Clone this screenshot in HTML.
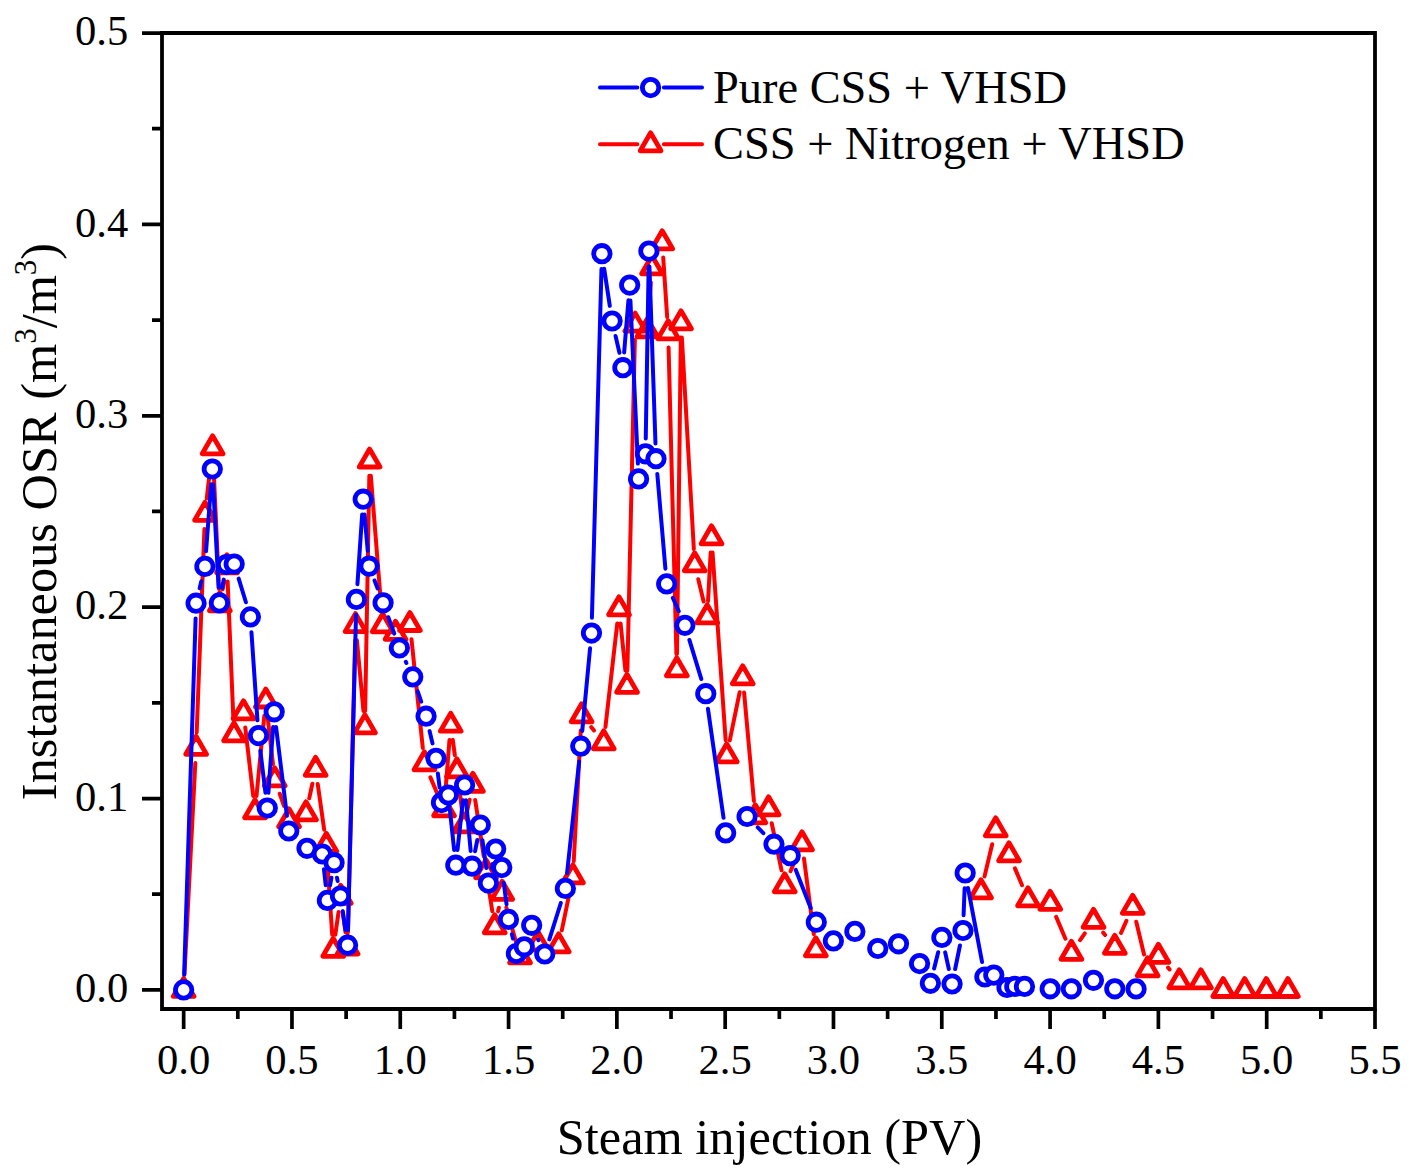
<!DOCTYPE html>
<html><head><meta charset="utf-8"><title>Instantaneous OSR</title><style>html,body{margin:0;padding:0;background:#fff;}svg{display:block;}</style></head><body>
<svg width="1409" height="1176" viewBox="0 0 1409 1176">
<rect width="1409" height="1176" fill="#fff"/>
<path d="M183.66 1009V1029M291.96 1009V1029M400.27 1009V1029M508.57 1009V1029M616.87 1009V1029M725.18 1009V1029M833.48 1009V1029M941.78 1009V1029M1050.09 1009V1029M1158.39 1009V1029M1266.7 1009V1029M1375 1009V1029M237.81 1009V1019M346.12 1009V1019M454.42 1009V1019M562.72 1009V1019M671.03 1009V1019M779.33 1009V1019M887.63 1009V1019M995.94 1009V1019M1104.24 1009V1019M1212.54 1009V1019M1320.85 1009V1019M142 989.9H162M142 798.53H162M142 607.15H162M142 415.78H162M142 224.41H162M142 33.04H162M152 894.21H162M152 702.84H162M152 511.47H162M152 320.1H162M152 128.72H162" stroke="#000" stroke-width="3.7" fill="none"/>
<path d="M162 33H1375V1009H162Z" stroke="#000" stroke-width="3.8" fill="none" stroke-linejoin="miter"/>
<g font-family='"Liberation Serif", serif' font-size="42.6" fill="#000"><text x="183.66" y="1074.3" text-anchor="middle">0.0</text><text x="291.96" y="1074.3" text-anchor="middle">0.5</text><text x="400.27" y="1074.3" text-anchor="middle">1.0</text><text x="508.57" y="1074.3" text-anchor="middle">1.5</text><text x="616.87" y="1074.3" text-anchor="middle">2.0</text><text x="725.18" y="1074.3" text-anchor="middle">2.5</text><text x="833.48" y="1074.3" text-anchor="middle">3.0</text><text x="941.78" y="1074.3" text-anchor="middle">3.5</text><text x="1050.09" y="1074.3" text-anchor="middle">4.0</text><text x="1158.39" y="1074.3" text-anchor="middle">4.5</text><text x="1266.7" y="1074.3" text-anchor="middle">5.0</text><text x="1375" y="1074.3" text-anchor="middle">5.5</text><text x="128.2" y="1002.1" text-anchor="end">0.0</text><text x="128.2" y="810.73" text-anchor="end">0.1</text><text x="128.2" y="619.35" text-anchor="end">0.2</text><text x="128.2" y="427.98" text-anchor="end">0.3</text><text x="128.2" y="236.61" text-anchor="end">0.4</text><text x="128.2" y="45.24" text-anchor="end">0.5</text></g>
<text x="769.5" y="1153.7" text-anchor="middle" font-family='"Liberation Serif", serif' font-size="50.4" fill="#000">Steam injection (PV)</text>
<text transform="translate(56.3 521.5) rotate(-90)" text-anchor="middle" font-family='"Liberation Serif", serif' font-size="50.4" fill="#000">Instantaneous OSR (m<tspan dy="-20" font-size="31">3</tspan><tspan dy="20">/m</tspan><tspan dy="-20" font-size="31">3</tspan><tspan dy="20">)</tspan></text>
<path d="M184.45 974.62L195.31 763.08M196.68 732.51L204.42 529.09M206.74 498.6L210.86 462.5M213.3 462.58L219.1 589.02M222.65 589.27L224.15 581.33M227.64 581.59L233.36 719.01M245.27 727.5L253.23 796.1M256.48 796.07L264.32 715.73M267.52 715.7L272.98 764.1M279.74 793.75L283.96 805.85M309.23 798.34L312.37 783.76M317.73 783.95L324.17 829.65M327.3 860.07L332.2 934.53M335.34 934.65L338.56 911.95M342.76 911.96L345.54 932.34M347.97 932.2L355.13 640.4M356.92 640.33L363.48 711.07M365.17 711L369.33 475.8M370.81 475.75L381.49 610.05M411.48 639.22L422.82 748.08M430.4 777.38L438 795.22M445.21 794.05L449.49 739.95M452.76 739.86L454.84 755.14M458.86 785.47L462.04 810.13M467.28 810.36L469.62 799.74M475.19 799.93L483.71 856.17M488.39 886.41L492.31 911.19M498.04 911.37L498.86 907.73M506.33 907.53L515.87 941.57M561.78 930.31L569.82 891.29M573.73 861.02L580.77 730.58M591.29 727.14L594.01 730.46M605.44 727.1L617.26 623.5M620.57 623.52L625.43 670.58M627.35 670.5L634.85 339.9M648.44 315.04L650.86 282.56M663.22 257.57L667.18 317.03M668.59 347.6L676.41 654M676.99 654L680.81 337.6M681.86 337.58L693.84 549.02M698.28 579.18L703.62 601.42M708.03 601.02L710.67 552.58M712.56 552.56L725.64 740.04M729.77 740.31L739.63 692.29M744.08 692.54L753.92 801.06M771.73 823.28L781.57 870.32M790.53 871.15L796.17 857.45M803.98 858.47L813.82 934.13M984.53 876.41L992.17 844.19M1014.95 868.4L1022.05 885.2M1056.17 916.89L1065.43 938.71M1080.09 940.21L1084.81 933.39M1103.2 932.64L1105.1 934.96M1121.05 932.83L1126.45 920.77M1136.25 921.68L1144.05 954.42M1168.1 967.63L1169.6 969.47" stroke="#f00" stroke-width="4.0" fill="none" stroke-linecap="round"/>
<path d="M183.66 978.4L194.05 996.4L173.27 996.4ZM196.1 736.3L206.49 754.3L185.71 754.3ZM205 502.3L215.39 520.3L194.61 520.3ZM212.6 435.8L222.99 453.8L202.21 453.8ZM219.8 592.8L230.19 610.8L209.41 610.8ZM227 554.8L237.39 572.8L216.61 572.8ZM234 722.8L244.39 740.8L223.61 740.8ZM243.5 700.8L253.89 718.8L233.11 718.8ZM255 799.8L265.39 817.8L244.61 817.8ZM265.8 689L276.19 707L255.41 707ZM274.7 767.8L285.09 785.8L264.31 785.8ZM289 808.8L299.39 826.8L278.61 826.8ZM306 801.8L316.39 819.8L295.61 819.8ZM315.6 757.3L325.99 775.3L305.21 775.3ZM326.3 833.3L336.69 851.3L315.91 851.3ZM333.2 938.3L343.59 956.3L322.81 956.3ZM340.7 885.3L351.09 903.3L330.31 903.3ZM347.6 936L357.99 954L337.21 954ZM355.5 613.6L365.89 631.6L345.11 631.6ZM364.9 714.8L375.29 732.8L354.51 732.8ZM369.6 449L379.99 467L359.21 467ZM382.7 613.8L393.09 631.8L372.31 631.8ZM395.5 621.3L405.89 639.3L385.11 639.3ZM409.9 612.5L420.29 630.5L399.51 630.5ZM424.4 751.8L434.79 769.8L414.01 769.8ZM444 797.8L454.39 815.8L433.61 815.8ZM450.7 713.2L461.09 731.2L440.31 731.2ZM456.9 758.8L467.29 776.8L446.51 776.8ZM464 813.8L474.39 831.8L453.61 831.8ZM472.9 773.3L483.29 791.3L462.51 791.3ZM486 859.8L496.39 877.8L475.61 877.8ZM494.7 914.8L505.09 932.8L484.31 932.8ZM502.2 881.3L512.59 899.3L491.81 899.3ZM520 944.8L530.39 962.8L509.61 962.8ZM538 931.8L548.39 949.8L527.61 949.8ZM558.7 933.8L569.09 951.8L548.31 951.8ZM572.9 864.8L583.29 882.8L562.51 882.8ZM581.6 703.8L591.99 721.8L571.21 721.8ZM603.7 730.8L614.09 748.8L593.31 748.8ZM619 596.8L629.39 614.8L608.61 614.8ZM627 674.3L637.39 692.3L616.61 692.3ZM635.2 313.1L645.59 331.1L624.81 331.1ZM647.3 318.8L657.69 336.8L636.91 336.8ZM652 255.8L662.39 273.8L641.61 273.8ZM662.2 230.8L672.59 248.8L651.81 248.8ZM668.2 320.8L678.59 338.8L657.81 338.8ZM676.8 657.8L687.19 675.8L666.41 675.8ZM681 310.8L691.39 328.8L670.61 328.8ZM694.7 552.8L705.09 570.8L684.31 570.8ZM707.2 604.8L717.59 622.8L696.81 622.8ZM711.5 525.8L721.89 543.8L701.11 543.8ZM726.7 743.8L737.09 761.8L716.31 761.8ZM742.7 665.8L753.09 683.8L732.31 683.8ZM755.3 804.8L765.69 822.8L744.91 822.8ZM768.6 796.8L778.99 814.8L758.21 814.8ZM784.7 873.8L795.09 891.8L774.31 891.8ZM802 831.8L812.39 849.8L791.61 849.8ZM815.8 937.8L826.19 955.8L805.41 955.8ZM981 879.8L991.39 897.8L970.61 897.8ZM995.7 817.8L1006.09 835.8L985.31 835.8ZM1009 842.8L1019.39 860.8L998.61 860.8ZM1028 887.8L1038.39 905.8L1017.61 905.8ZM1050.2 891.3L1060.59 909.3L1039.81 909.3ZM1071.4 941.3L1081.79 959.3L1061.01 959.3ZM1093.5 909.3L1103.89 927.3L1083.11 927.3ZM1114.8 935.3L1125.19 953.3L1104.41 953.3ZM1132.7 895.3L1143.09 913.3L1122.31 913.3ZM1147.6 957.8L1157.99 975.8L1137.21 975.8ZM1158.4 944.3L1168.79 962.3L1148.01 962.3ZM1179.3 969.8L1189.69 987.8L1168.91 987.8ZM1200.9 969.8L1211.29 987.8L1190.51 987.8ZM1223.2 978.5L1233.59 996.5L1212.81 996.5ZM1244.7 978.5L1255.09 996.5L1234.31 996.5ZM1266.3 978.5L1276.69 996.5L1255.91 996.5ZM1287.9 978.5L1298.29 996.5L1277.51 996.5Z" stroke="#f00" stroke-width="4.8" fill="#fff" stroke-linejoin="round"/>
<path d="M184.15 974.61L195.61 618.49M199.66 588.32L201.34 581.28M206.06 551.14L211.14 484.26M213.11 484.28L218.59 587.62M222.19 587.86L223.71 579.64M238.68 578.63L245.92 602.27M251.44 632.16L257.46 720.34M260.35 750.79L265.45 792.81M268.39 792.74L273.11 727.06M276.06 726.99L286.94 815.81M323.97 869.21L325.73 885.19M330.08 885.34L331.42 877.76M336.99 877.73L337.61 880.97M342.69 911.14L345.41 930.06M347.99 929.9L356.01 614.7M357.44 584.14L362.16 514.46M364.54 514.44L367.76 550.96M374.57 580.49L377.63 588.51M388.29 617.19L394.21 633.61M405.84 661.88L406.36 663.02M417.7 691.39L421.2 701.71M429.6 731.09L432.5 743.41M437.89 773.48L439.61 787.42M449.93 810.21L454.17 849.99M457.47 849.99L462.93 800.21M466.01 800.24L470.69 850.96M475.09 851.19L477.31 840.01M482.41 840.15L486.29 867.95M491.6 868.14L492.5 863.96M503.76 882.77L506.54 904.23M511.95 934.31L512.95 938.59M538.05 939.22L538.45 940.08M549.38 939.4L560.82 903M567.05 873.19L579.15 761.41M582.24 730.97L590.06 648.33M591.92 617.81L601.48 268.99M604.19 268.83L609.81 305.87M615.55 335.91L619.45 352.79M624.16 352.45L628.44 300.35M630.4 300.38L637.9 463.62M645.76 438.5L648.64 266.4M649.42 266.39L655.48 443.41M657.3 473.94L665.4 568.66M672.86 597.91L678.74 611.29M689.37 639.93L701.33 679.07M707.97 708.85L723.53 817.75M757.76 827.48L763.34 833.22M795.79 869.94L810.71 907.96M934.12 968.46L938.18 952.24M945.17 952.35L948.83 969.05M955.15 969.01L959.95 945.49M963.58 915.21L964.62 888.29M968.05 888.03L982.05 961.97" stroke="#00f" stroke-width="4.0" fill="none" stroke-linecap="round"/>
<g stroke="#00f" stroke-width="4.8" fill="#fff"><circle cx="183.66" cy="989.9" r="8.2"/><circle cx="196.1" cy="603.2" r="8.2"/><circle cx="204.9" cy="566.4" r="8.2"/><circle cx="212.3" cy="469" r="8.2"/><circle cx="219.4" cy="602.9" r="8.2"/><circle cx="226.5" cy="564.6" r="8.2"/><circle cx="234.2" cy="564" r="8.2"/><circle cx="250.4" cy="616.9" r="8.2"/><circle cx="258.5" cy="735.6" r="8.2"/><circle cx="267.3" cy="808" r="8.2"/><circle cx="274.2" cy="711.8" r="8.2"/><circle cx="288.8" cy="831" r="8.2"/><circle cx="307" cy="848.3" r="8.2"/><circle cx="322.3" cy="854" r="8.2"/><circle cx="327.4" cy="900.4" r="8.2"/><circle cx="334.1" cy="862.7" r="8.2"/><circle cx="340.5" cy="896" r="8.2"/><circle cx="347.6" cy="945.2" r="8.2"/><circle cx="356.4" cy="599.4" r="8.2"/><circle cx="363.2" cy="499.2" r="8.2"/><circle cx="369.1" cy="566.2" r="8.2"/><circle cx="383.1" cy="602.8" r="8.2"/><circle cx="399.4" cy="648" r="8.2"/><circle cx="412.8" cy="676.9" r="8.2"/><circle cx="426.1" cy="716.2" r="8.2"/><circle cx="436" cy="758.3" r="8.2"/><circle cx="441.5" cy="802.6" r="8.2"/><circle cx="448.3" cy="795" r="8.2"/><circle cx="455.8" cy="865.2" r="8.2"/><circle cx="464.6" cy="785" r="8.2"/><circle cx="472.1" cy="866.2" r="8.2"/><circle cx="480.3" cy="825" r="8.2"/><circle cx="488.4" cy="883.1" r="8.2"/><circle cx="495.7" cy="849" r="8.2"/><circle cx="501.8" cy="867.6" r="8.2"/><circle cx="508.5" cy="919.4" r="8.2"/><circle cx="516.4" cy="953.5" r="8.2"/><circle cx="524.3" cy="946.8" r="8.2"/><circle cx="531.7" cy="925.3" r="8.2"/><circle cx="544.8" cy="954" r="8.2"/><circle cx="565.4" cy="888.4" r="8.2"/><circle cx="580.8" cy="746.2" r="8.2"/><circle cx="591.5" cy="633.1" r="8.2"/><circle cx="601.9" cy="253.7" r="8.2"/><circle cx="612.1" cy="321" r="8.2"/><circle cx="622.9" cy="367.7" r="8.2"/><circle cx="629.7" cy="285.1" r="8.2"/><circle cx="638.6" cy="478.9" r="8.2"/><circle cx="645.5" cy="453.8" r="8.2"/><circle cx="648.9" cy="251.1" r="8.2"/><circle cx="656" cy="458.7" r="8.2"/><circle cx="666.7" cy="583.9" r="8.2"/><circle cx="684.9" cy="625.3" r="8.2"/><circle cx="705.8" cy="693.7" r="8.2"/><circle cx="725.7" cy="832.9" r="8.2"/><circle cx="747.1" cy="816.5" r="8.2"/><circle cx="774" cy="844.2" r="8.2"/><circle cx="790.2" cy="855.7" r="8.2"/><circle cx="816.3" cy="922.2" r="8.2"/><circle cx="833.4" cy="940.9" r="8.2"/><circle cx="854.9" cy="931.4" r="8.2"/><circle cx="877.8" cy="948.5" r="8.2"/><circle cx="898.5" cy="943.8" r="8.2"/><circle cx="919.6" cy="963.6" r="8.2"/><circle cx="930.4" cy="983.3" r="8.2"/><circle cx="941.9" cy="937.4" r="8.2"/><circle cx="952.1" cy="984" r="8.2"/><circle cx="963" cy="930.5" r="8.2"/><circle cx="965.2" cy="873" r="8.2"/><circle cx="984.9" cy="977" r="8.2"/><circle cx="993.8" cy="975.1" r="8.2"/><circle cx="1007" cy="987.5" r="8.2"/><circle cx="1014.8" cy="986.4" r="8.2"/><circle cx="1024.5" cy="986.4" r="8.2"/><circle cx="1050.2" cy="988.8" r="8.2"/><circle cx="1071.4" cy="988.8" r="8.2"/><circle cx="1093.5" cy="980.3" r="8.2"/><circle cx="1114.8" cy="988.8" r="8.2"/><circle cx="1136.1" cy="988.9" r="8.2"/></g>
<path d="M600 87.6H637.3M663.9 87.6H702" stroke="#00f" stroke-width="4.0" stroke-linecap="round"/>
<circle cx="650.6" cy="87.6" r="8.2" stroke="#00f" stroke-width="4.8" fill="#fff"/>
<path d="M600 144.3H637.3M663.9 144.3H702" stroke="#f00" stroke-width="4.0" stroke-linecap="round"/>
<path d="M650.6 132.8L660.99 150.8L640.21 150.8Z" stroke="#f00" stroke-width="4.8" fill="#fff" stroke-linejoin="round"/>
<g font-family='"Liberation Serif", serif' font-size="46.4" fill="#000"><text x="713" y="102.6">Pure CSS + VHSD</text><text x="713" y="158.7">CSS + Nitrogen + VHSD</text></g>
</svg>
</body></html>
